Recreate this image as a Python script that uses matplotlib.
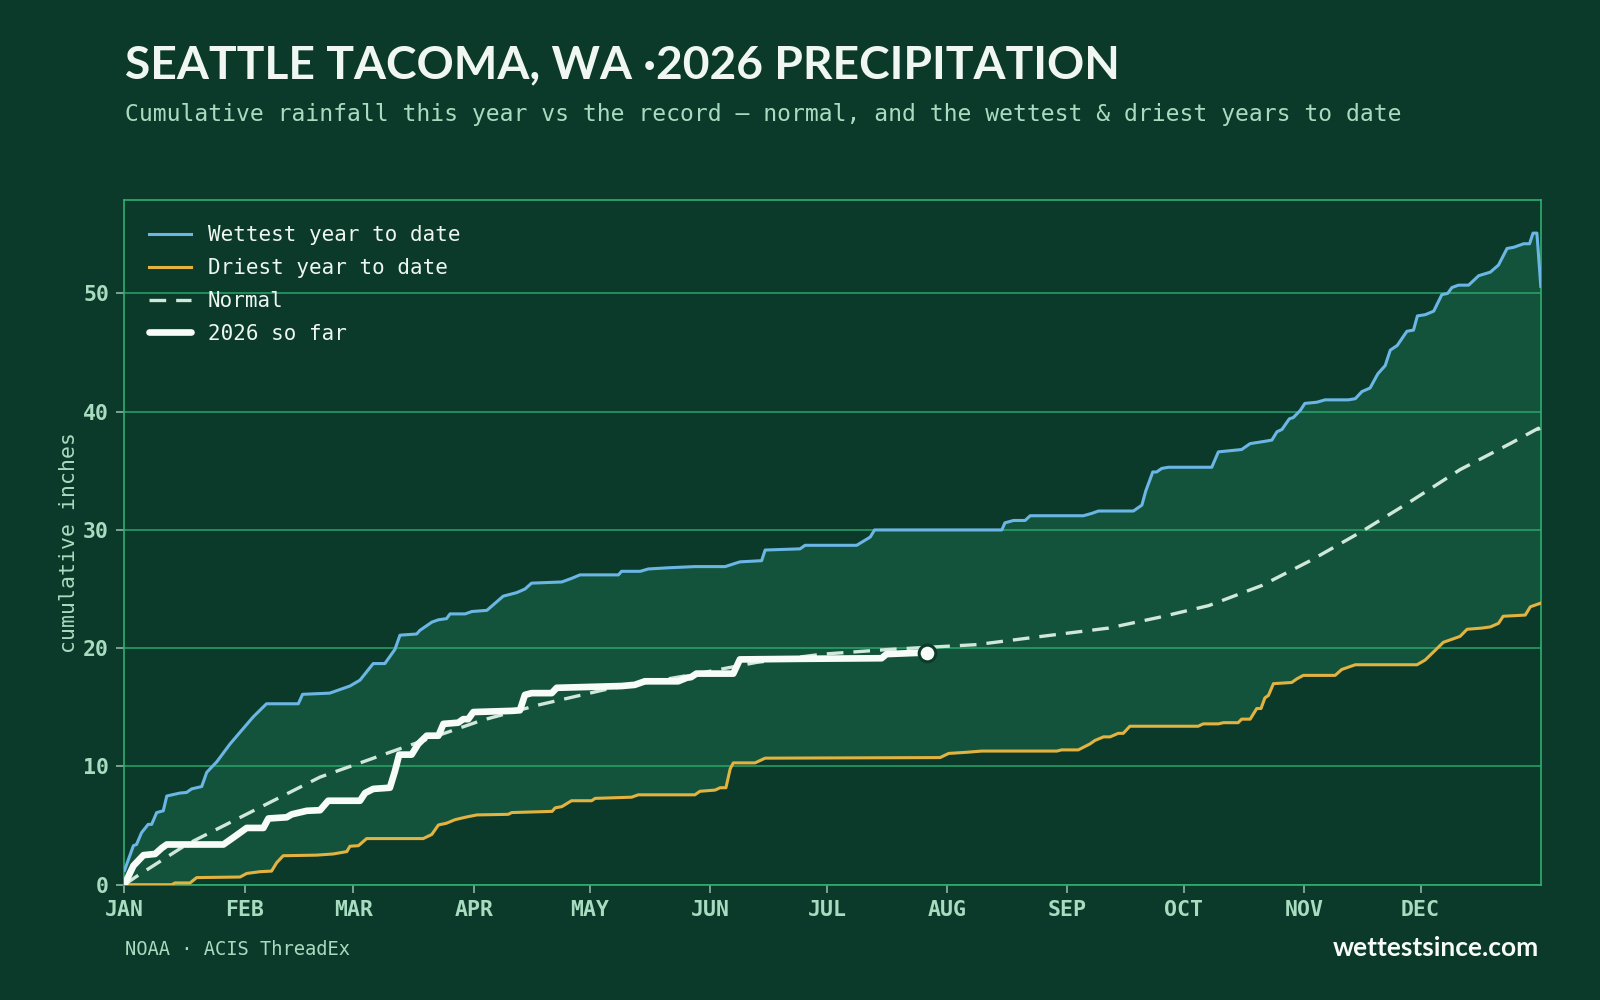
import matplotlib
matplotlib.use("Agg")
import matplotlib.pyplot as plt

# cumulative inches, (day of year, value)
WETTEST = [
    (0, 1.2), (2.3, 3.3), (3.1, 3.4), (4.4, 4.4), (6.1, 5.1), (7.0, 5.1), (8.3, 6.1),
    (10.0, 6.25), (10.9, 7.5), (14.3, 7.75), (16.0, 7.8), (17.3, 8.1), (19.9, 8.3),
    (21.2, 9.5), (23.8, 10.4), (27.2, 11.9), (29.8, 12.9), (33.2, 14.2), (36.6, 15.3),
    (44.8, 15.3), (45.9, 16.1), (52.9, 16.2), (58.1, 16.8), (60.7, 17.3), (64.1, 18.7),
    (67.1, 18.7), (69.7, 19.9), (71.0, 21.1), (75.3, 21.2), (76.1, 21.5), (79.2, 22.2),
    (80.9, 22.4), (83.0, 22.5), (83.9, 22.9), (87.8, 22.9), (89.5, 23.1), (93.4, 23.2),
    (95.5, 23.8), (97.6, 24.4), (101.1, 24.7), (103.2, 25.0), (104.9, 25.5), (112.7, 25.6),
    (115.2, 25.9), (117.4, 26.2), (127.3, 26.2), (128.1, 26.5), (132.9, 26.5), (135.0, 26.7),
    (140.2, 26.8), (147.0, 26.9), (154.8, 26.9), (158.6, 27.3), (164.2, 27.4), (165.1, 28.3),
    (174.1, 28.4), (175.4, 28.7), (188.7, 28.7), (192.2, 29.4), (193.3, 30.0), (226.1, 30.0),
    (226.9, 30.6), (229.1, 30.8), (232.1, 30.8), (233.4, 31.2), (247.1, 31.2), (249.3, 31.4),
    (251.0, 31.6), (260.0, 31.6), (262.2, 32.1), (263.2, 33.3), (265.0, 34.9), (266.0, 34.9),
    (267.3, 35.2), (269.0, 35.3), (280.2, 35.3), (281.9, 36.6), (287.9, 36.8), (290.1, 37.3),
    (294.0, 37.5), (295.7, 37.6), (297.0, 38.3), (298.3, 38.5), (300.2, 39.4), (301.2, 39.5),
    (303.0, 40.1), (304.2, 40.7), (307.3, 40.8), (309.4, 41.0), (315.4, 41.0), (317.2, 41.1),
    (318.9, 41.7), (321.0, 42.0), (323.0, 43.2), (324.9, 43.9), (326.2, 45.2), (328.0, 45.6),
    (330.5, 46.8), (332.2, 46.9), (333.2, 48.1), (335.2, 48.2), (337.4, 48.5), (339.5, 49.9),
    (341.0, 50.0), (342.1, 50.5), (343.8, 50.7), (346.4, 50.7), (349.0, 51.5), (352.0, 51.8),
    (354.1, 52.4), (356.3, 53.8), (358.0, 53.9), (360.6, 54.2), (362.1, 54.2), (363.0, 55.1),
    (364.0, 55.1), (365.0, 50.6),
]

DRIEST = [
    (0, 0), (12.2, 0), (13.0, 0.15), (16.9, 0.15), (18.6, 0.6), (29.8, 0.65), (31.5, 0.95),
    (34.9, 1.1), (37.9, 1.15), (39.2, 1.85), (40.9, 2.45), (49.5, 2.5), (53.8, 2.6),
    (57.3, 2.8), (58.1, 3.25), (60.3, 3.3), (62.4, 3.9), (77.0, 3.9), (79.2, 4.25),
    (80.9, 5.05), (83.0, 5.2), (85.2, 5.5), (87.8, 5.7), (90.8, 5.9), (98.9, 5.95),
    (99.8, 6.1), (110.2, 6.2), (111.0, 6.5), (112.7, 6.6), (115.2, 7.1), (120.4, 7.1),
    (121.3, 7.3), (130.7, 7.4), (132.4, 7.6), (147.0, 7.6), (148.3, 7.9), (152.2, 8.0),
    (153.5, 8.2), (155.0, 8.2), (156.1, 9.8), (156.9, 10.3), (162.5, 10.3), (165.1, 10.7),
    (210.2, 10.75), (212.4, 11.1), (217.1, 11.2), (220.9, 11.3), (240.3, 11.3), (241.5, 11.4),
    (245.8, 11.4), (248.8, 11.9), (250.1, 12.2), (252.3, 12.5), (254.0, 12.5), (256.1, 12.8),
    (257.4, 12.8), (259.1, 13.4), (276.7, 13.4), (278.0, 13.6), (281.9, 13.6), (283.2, 13.7),
    (287.0, 13.7), (287.9, 14.0), (290.1, 14.0), (291.8, 14.9), (292.9, 14.9), (293.9, 15.8),
    (294.8, 16.0), (296.1, 17.0), (300.8, 17.1), (302.1, 17.4), (303.8, 17.7), (312.0, 17.7),
    (313.7, 18.2), (317.2, 18.6), (333.1, 18.6), (335.2, 19.0), (337.4, 19.7), (339.9, 20.5),
    (342.5, 20.8), (344.2, 21.0), (346.0, 21.6), (349.8, 21.7), (352.0, 21.8), (354.1, 22.1),
    (355.3, 22.7), (361.0, 22.8), (362.3, 23.5), (364.9, 23.8),
]

NORMAL = [
    (0, 0), (3.1, 0.7), (16.0, 3.4), (33.2, 6.25), (50.4, 9.1), (71.0, 11.5), (92.1, 13.9),
    (106.7, 15.2), (123.9, 16.5), (145.3, 17.7), (162.9, 18.8), (180.1, 19.5), (197.3, 19.9),
    (219.6, 20.3), (236.4, 21.0), (253.6, 21.7), (266.5, 22.6), (279.4, 23.6), (293.1, 25.3),
    (305.6, 27.4), (318.5, 29.8), (331.4, 32.4), (344.2, 35.1), (357.1, 37.3), (364.4, 38.6),
    (365.0, 37.9),
]

THIS_YEAR = [
    (0, 0), (2.3, 1.6), (4.9, 2.5), (7.9, 2.6), (9.6, 3.1), (10.9, 3.4), (25.5, 3.4),
    (28.1, 4.0), (31.5, 4.8), (35.8, 4.8), (37.1, 5.6), (41.8, 5.7), (43.1, 5.95),
    (47.0, 6.25), (50.4, 6.3), (52.5, 7.1), (60.7, 7.1), (62.0, 7.75), (64.1, 8.1),
    (68.4, 8.2), (69.7, 9.6), (70.8, 11.0), (74.0, 11.0), (75.7, 11.9), (77.9, 12.6),
    (80.9, 12.6), (82.2, 13.6), (86.0, 13.7), (87.3, 14.0), (88.6, 14.0), (89.9, 14.6),
    (99.8, 14.7), (101.9, 14.75), (103.2, 16.05), (104.9, 16.2), (110.1, 16.2), (111.4, 16.65),
    (128.1, 16.8), (131.5, 16.9), (134.1, 17.2), (142.7, 17.2), (144.9, 17.5), (146.0, 17.55),
    (147.4, 17.85), (156.9, 17.85), (158.6, 19.05), (174.1, 19.1), (195.1, 19.15),
    (196.4, 19.5), (204.1, 19.6), (206.9, 19.6),
]

MONTHS = ["JAN", "FEB", "MAR", "APR", "MAY", "JUN", "JUL", "AUG", "SEP", "OCT", "NOV", "DEC"]
MONTH_START = [0, 31, 59, 90, 120, 151, 181, 212, 243, 273, 304, 334]
Y_TICKS = [0, 10, 20, 30, 40, 50]

BG = "#0c3a2a"
FILL = "#14533b"
GRID = "#2aa56a"
MINT = "#a8dcc0"
WET_C = "#6cb6e6"
DRY_C = "#e3b341"
NORM_C = "#cfe8da"
MONO = ["DejaVu Sans Mono"]
HEAD = ["Lato", "DejaVu Sans"]


def main():
    wx, wy = zip(*WETTEST)
    dx, dy = zip(*DRIEST)
    nx, ny = zip(*NORMAL)
    cx, cy = zip(*THIS_YEAR)

    fig = plt.figure(figsize=(16, 10), dpi=100, facecolor=BG)
    ax = fig.add_axes([0.0778, 0.1153, 0.8852, 0.6847], facecolor=BG)

    ax.fill(list(wx) + list(dx)[::-1], list(wy) + list(dy)[::-1],
            color=FILL, lw=0, zorder=1)
    ax.plot(wx, wy, color=WET_C, lw=2.2, zorder=3, label="Wettest year to date")
    ax.plot(dx, dy, color=DRY_C, lw=2.2, zorder=3, label="Driest year to date")
    ax.plot(nx, ny, color=NORM_C, lw=2.4, ls=(0, (5, 3)), zorder=4, label="Normal")
    ax.plot(cx, cy, color="#f7fcf9", lw=4.8, zorder=5, solid_capstyle="round",
            label="2026 so far")
    ax.plot(cx[-1], cy[-1], "o", ms=12, mfc="#f7fcf9", mec=BG, mew=2.2, zorder=6)

    ax.set_xlim(0, 365)
    ax.set_ylim(0, 57.9)
    ax.set_xticks(MONTH_START)
    ax.set_xticklabels(MONTHS)
    ax.set_yticks(Y_TICKS)
    ax.grid(axis="y", color=GRID, lw=1.1)
    ax.set_axisbelow("line")

    for s in ax.spines.values():
        s.set_color("#2fae6f")
        s.set_linewidth(1.2)
    ax.tick_params(colors="#8fb5a3", length=6, width=1.2, pad=5,
                   labelcolor=MINT, labelsize=15.5)
    for lab in ax.get_xticklabels() + ax.get_yticklabels():
        lab.set_family(MONO)
        lab.set_fontweight("bold")

    ax.set_ylabel("cumulative inches", color=MINT, fontsize=15.5, family=MONO)
    ax.yaxis.set_label_coords(-0.032, 0.5)

    leg = ax.legend(loc="upper left", bbox_to_anchor=(0.0, 1.0), frameon=False,
                    prop={"family": MONO, "size": 15}, handlelength=2.0,
                    handletextpad=0.8, labelspacing=0.62, borderaxespad=0.8)
    for t in leg.get_texts():
        t.set_color("#eef6f1")

    fig.text(0.078, 0.922, "SEATTLE TACOMA, WA \u00b72026 PRECIPITATION",
             color="#f0f7f2", fontsize=33.2, fontweight="bold", family=HEAD,
             va="baseline")
    fig.text(0.078, 0.8785,
             "Cumulative rainfall this year vs the record \u2014 normal, and the wettest & driest years to date",
             color=MINT, fontsize=16.6, family=MONO, va="baseline")
    fig.text(0.078, 0.045, "NOAA \u00b7 ACIS ThreadEx", color=MINT, fontsize=13.5,
             family=MONO, va="baseline")
    fig.text(0.962, 0.044, "wettestsince.com", color="#f7fcf9", fontsize=19,
             fontweight="bold", family=HEAD, ha="right", va="baseline")

    fig.savefig("out.png", dpi=100, facecolor=BG)
    plt.close(fig)


if __name__ == "__main__":
    main()
